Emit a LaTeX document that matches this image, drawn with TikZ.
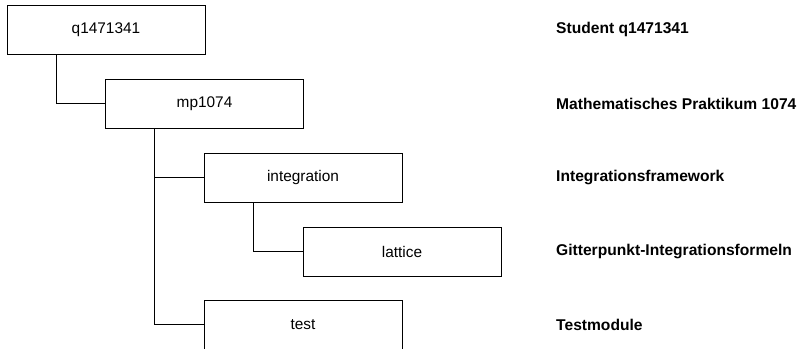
\documentclass[tikz,border=0pt]{standalone}
\usepackage{fontspec}
\setmainfont{Liberation Sans}
\usetikzlibrary{calc}
\begin{document}
\begin{tikzpicture}[x=1pt,y=-1pt,
  box/.style={draw=black, line width=1pt, minimum width=198pt, minimum height=49pt, inner sep=0pt, font=\fontsize{15.4}{18}\selectfont},
  lbl/.style={anchor=west, inner sep=0pt, font=\fontsize{15.6}{18}\selectfont\bfseries},
  conn/.style={draw=black, line width=1pt}]
\useasboundingbox (0,0) rectangle (800,348);
\clip (0,0) rectangle (800,348);
\node[box] (b1) at (106,29.5) {q1471341};
\node[box] (b2) at (204.5,103.5) {mp1074};
\node[box] (b3) at (303,177.5) {integration};
\node[box] (b4) at (402,251.5) {lattice};
\node[box] (b5) at (303,324.5) {test};
\node[lbl] (l1) at (556,29.5) {Student q1471341};
\node[lbl] (l2) at (556,103.5) {Mathematisches Praktikum 1074};
\node[lbl] (l3) at (556,177.5) {Integrationsframework};
\node[lbl] (l4) at (556,251.5) {Gitterpunkt-Integrationsformeln};
\node[lbl] (l5) at (556,324.5) {Testmodule};
\draw[conn] ($(b1.south west)!0.25!(b1.south east)$) |- (b2.west);
\draw[conn] ($(b2.south west)!0.25!(b2.south east)$) |- (b3.west);
\draw[conn] ($(b2.south west)!0.25!(b2.south east)$) |- (b5.west);
\draw[conn] ($(b3.south west)!0.25!(b3.south east)$) |- (b4.west);
\end{tikzpicture}
\end{document}
